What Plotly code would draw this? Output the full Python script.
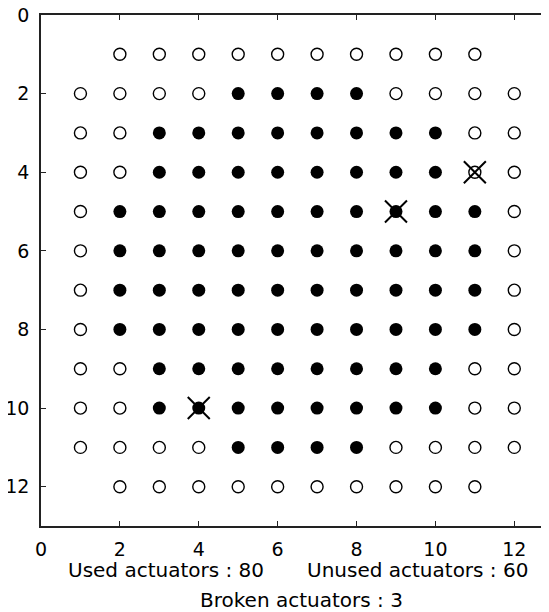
import plotly.graph_objects as go

# Actuator grid (row index = y, columns x)
rows = [1, 2, 3, 4, 5, 6, 7, 8, 9, 10, 11, 12]
row_first_col = [2, 1, 1, 1, 1, 1, 1, 1, 1, 1, 1, 2]
row_last_col = [11, 12, 12, 12, 12, 12, 12, 12, 12, 12, 12, 11]
used_first_col = [None, 5, 3, 3, 2, 2, 2, 2, 3, 3, 5, None]
used_last_col = [None, 8, 10, 10, 11, 11, 11, 11, 10, 10, 8, None]
broken_x = [11, 9, 4]
broken_y = [4, 5, 10]

used_count = 80
unused_count = 60
broken_count = 3

x_ticks = [0, 2, 4, 6, 8, 10, 12]
y_ticks = [0, 2, 4, 6, 8, 10, 12]

used_x, used_y, unused_x, unused_y = [], [], [], []
for r, a, b, ua, ub in zip(rows, row_first_col, row_last_col, used_first_col, used_last_col):
    for c in range(a, b + 1):
        if ua is not None and ua <= c <= ub:
            used_x.append(c); used_y.append(r)
        else:
            unused_x.append(c); unused_y.append(r)

fig = go.Figure()
fig.add_trace(go.Scatter(x=unused_x, y=unused_y, mode="markers",
                         marker=dict(symbol="circle-open", size=12, color="black",
                                     line=dict(width=1.4, color="black")),
                         showlegend=False, hoverinfo="skip"))
fig.add_trace(go.Scatter(x=used_x, y=used_y, mode="markers",
                         marker=dict(symbol="circle", size=13, color="black",
                                     line=dict(width=0)),
                         showlegend=False, hoverinfo="skip"))
fig.add_trace(go.Scatter(x=broken_x, y=broken_y, mode="markers",
                         marker=dict(symbol="x-thin", size=22, color="black",
                                     line=dict(width=2, color="black")),
                         showlegend=False, hoverinfo="skip"))

# page has an 8px body margin: figure is 8px smaller and offset
PLOT_L, PLOT_W, PLOT_T, PLOT_H = 33, 508, 7, 511

font_family = "DejaVu Sans"
fig.update_layout(
    width=541, height=604,
    margin=dict(l=PLOT_L, r=0, t=PLOT_T, b=604 - PLOT_T - PLOT_H, autoexpand=False),
    paper_bgcolor="white", plot_bgcolor="white",
    font=dict(family=font_family, size=19, color="black"),
    xaxis=dict(range=[0, 12.88], tickvals=x_ticks, ticks="inside", ticklen=5,
               tickwidth=1.2, tickcolor="#222", showline=True, linecolor="#222",
               linewidth=1.5, mirror="ticks", showgrid=False, zeroline=False,
               automargin=False, ticklabelstandoff=5, ticklabeloverflow="allow",
               tickfont=dict(size=19)),
    yaxis=dict(range=[13, 0], tickvals=y_ticks, ticks="inside", ticklen=5,
               tickwidth=1.2, tickcolor="#222", showline=True, linecolor="#222",
               linewidth=1.5, mirror=False, showgrid=False, zeroline=False,
               automargin=False, ticklabelstandoff=6, ticklabeloverflow="allow",
               tickfont=dict(size=19)),
)

def px(xpage):
    return (xpage - 41) / PLOT_W

def py(ypage):
    return -(ypage - 526) / PLOT_H

fig.add_annotation(text=f"Used actuators : {used_count}", xref="paper", yref="paper",
                   x=px(166), y=py(570), showarrow=False,
                   xanchor="center", yanchor="middle", font=dict(size=20))
fig.add_annotation(text=f"Unused actuators : {unused_count}", xref="paper", yref="paper",
                   x=px(417), y=py(570), showarrow=False,
                   xanchor="center", yanchor="middle", font=dict(size=20))
fig.add_annotation(text=f"Broken actuators : {broken_count}", xref="paper", yref="paper",
                   x=px(301), y=py(600), showarrow=False,
                   xanchor="center", yanchor="middle", font=dict(size=20))

fig.write_html("out.html")
